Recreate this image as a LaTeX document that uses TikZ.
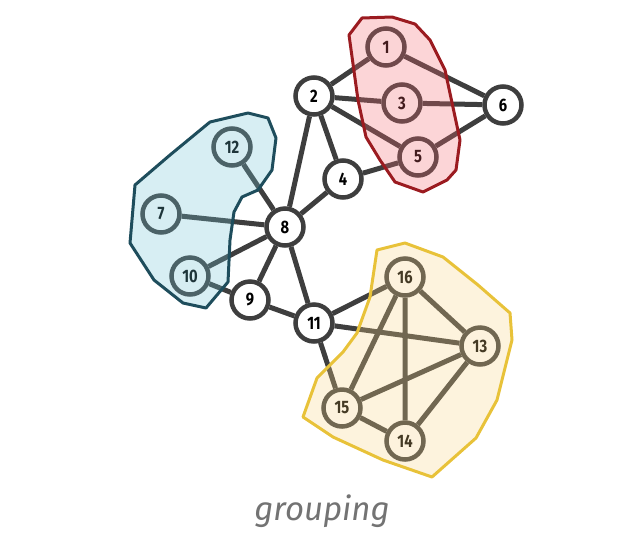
\documentclass[tikz,border=0pt]{standalone}
\usepackage{xcolor}
\usepackage{fontspec}
\setsansfont{Fira Sans}
\newfontfamily\numfont[FakeStretch=0.82]{Fira Sans}
\usetikzlibrary{backgrounds}

\definecolor{graphgray}{HTML}{3E3E3E}
\definecolor{redfill}{RGB}{244,104,111}
\definecolor{redline}{HTML}{9B1B20}
\definecolor{bluefill}{RGB}{111,193,211}
\definecolor{blueline}{HTML}{1E4D5C}
\definecolor{yellowfill}{RGB}{248,211,133}
\definecolor{yellowline}{HTML}{E8C239}

\tikzset{
	vertex/.style = {circle, draw=graphgray, fill=white, line width=4.5pt,
		minimum size=37pt, inner sep=0pt, font=\numfont\bfseries\fontsize{18}{18}\selectfont},
	edge/.style = {draw=graphgray, line width=5pt},
	hull/.style = {line width=3pt, line join=round, fill opacity=0.28}
}

\begin{document}
\begin{tikzpicture}[x=1pt, y=-1pt]
				\useasboundingbox (0,0) rectangle (636,542);
				
				% vertices
				\node[vertex] (n1)  at (386,47)  {1};
				\node[vertex] (n2)  at (314,96)  {2};
				\node[vertex] (n3)  at (402,103) {3};
				\node[vertex] (n4)  at (343,179) {4};
				\node[vertex] (n5)  at (418,157) {5};
				\node[vertex] (n6)  at (503,105) {6};
				\node[vertex] (n7)  at (161,214) {7};
				\node[vertex] (n8)  at (285,227) {8};
				\node[vertex] (n9)  at (250,300) {9};
				\node[vertex] (n10) at (190,276) {10};
				\node[vertex] (n11) at (314,323) {11};
				\node[vertex] (n12) at (232,147) {12};
				\node[vertex] (n13) at (480,346) {13};
				\node[vertex] (n14) at (405,441) {14};
				\node[vertex] (n15) at (342,408) {15};
				\node[vertex] (n16) at (405,277) {16};
				
				% edges, behind the vertices
				\begin{scope}[on background layer]
				\path[edge]
					(n2) -- (n1)  (n2) -- (n3)  (n2) -- (n5)  (n2) -- (n4)
					(n2) -- (n8)  (n1) -- (n6)  (n3) -- (n6)  (n5) -- (n6)
					(n4) -- (n5)  (n4) -- (n8)  (n12) -- (n8) (n7) -- (n8)
					(n10) -- (n8) (n10) -- (n9) (n9) -- (n8)  (n9) -- (n11)
					(n8) -- (n11) (n11) -- (n16) (n11) -- (n13) (n11) -- (n15)
					(n16) -- (n15) (n16) -- (n14) (n16) -- (n13) (n13) -- (n15)
					(n13) -- (n14) (n15) -- (n14);
				\end{scope}
				
				% groups
				\draw[hull, draw=redline, fill=redfill]
					(349,35) -- (362,18) -- (392,17) -- (415,24) -- (430,40) -- (445,70)
					-- (460,140) -- (456,170) -- (447,180) -- (423,192) -- (395,182)
					-- (380,160) -- (366,137) -- (358,100) -- cycle;
				\draw[hull, draw=blueline, fill=bluefill]
					(135,185) -- (170,155) -- (210,122) -- (248,113) -- (268,118)
					-- (276,138) -- (272,170) -- (258,190) -- (242,197) -- (234,212)
					-- (230,240) -- (228,282) -- (206,308) -- (183,303) -- (154,280)
					-- (130,243) -- cycle;
				\draw[hull, draw=yellowline, fill=yellowfill]
					(377,250) -- (405,243) -- (443,257) -- (478,285) -- (510,313)
					-- (512,340) -- (497,400) -- (476,438) -- (432,477) -- (383,460)
					-- (333,437) -- (303,417) -- (317,378) -- (343,352) -- (357,333)
					-- (370,297) -- cycle;
				
				\node[font=\sffamily\itshape\fontsize{33}{33}\selectfont, text=black!55] (caption) at (322,511) {grouping};
			\end{tikzpicture}
\end{document}
